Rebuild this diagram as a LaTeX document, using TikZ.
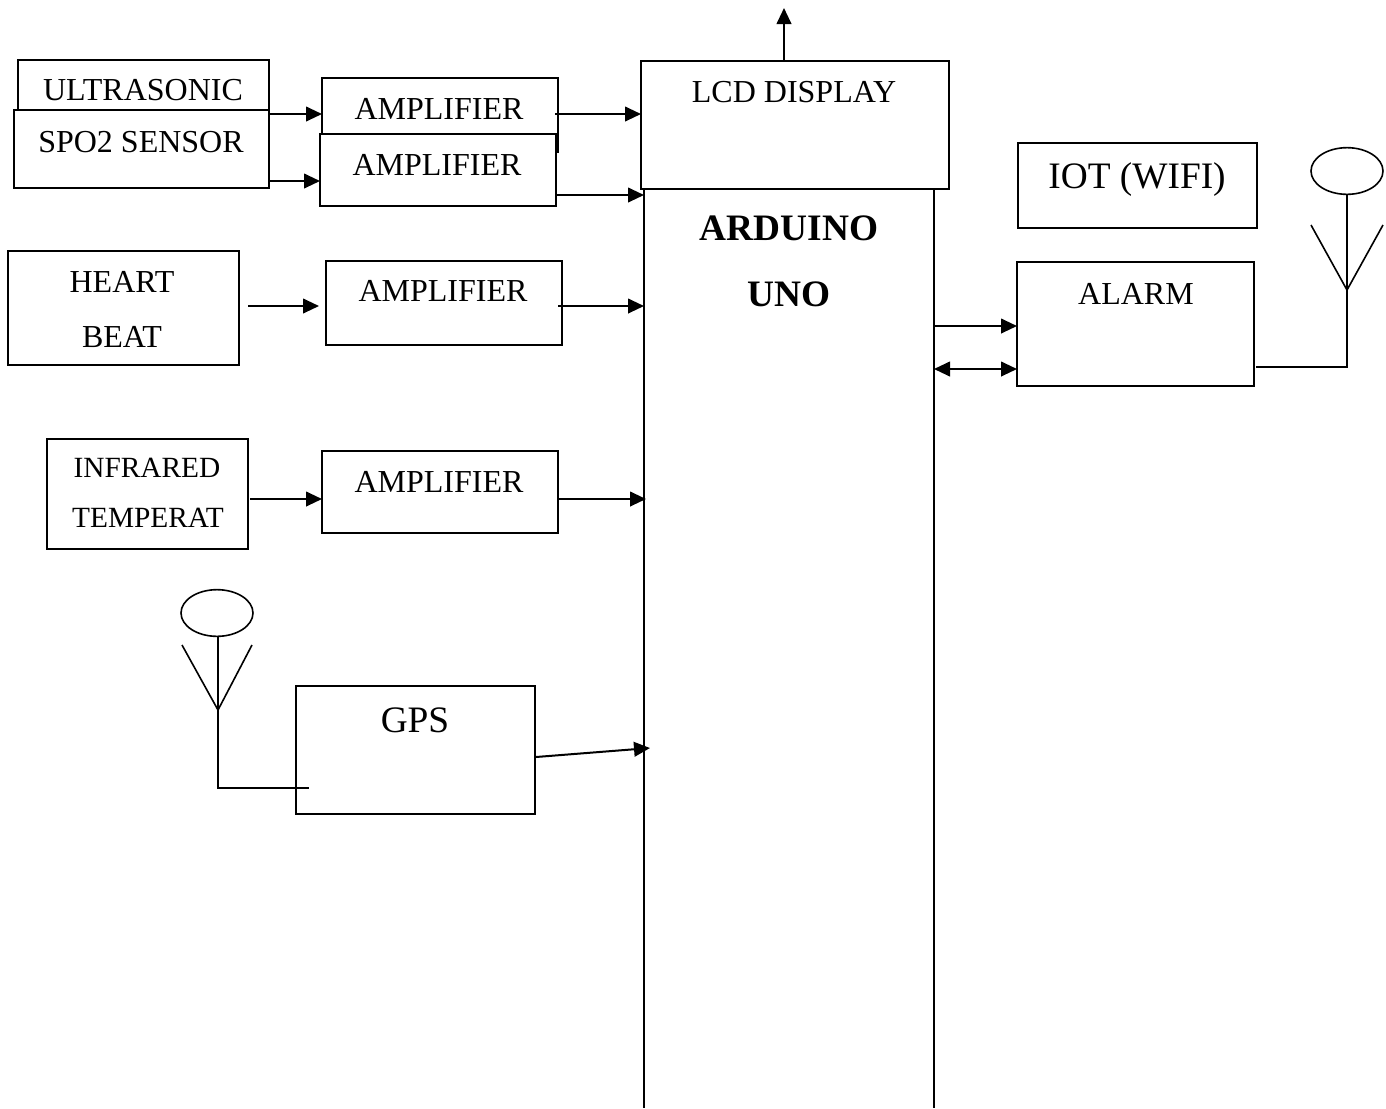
\documentclass[tikz,border=0pt]{standalone}
\usepackage{fontspec}
\setmainfont{Liberation Serif}
\usetikzlibrary{arrows.meta, shapes.geometric}

\tikzset{
  blk/.style 2 args={draw, fill=white, line width=1.5pt, anchor=north west, inner sep=0, outer sep=0,
    minimum width=#1*0.75pt, minimum height=#2*0.75pt},
  txt/.style={inner sep=0, anchor=base, font=\fontsize{24}{28}\selectfont},
  txtsm/.style={txt, font=\fontsize{22}{26}\selectfont},
  txtbig/.style={txt, font=\fontsize{28}{32}\selectfont},
  txtbold/.style={txt, font=\fontsize{28}{32}\selectfont\bfseries},
  sig/.style={line width=1.5pt, -{Triangle[length=12pt,width=11pt]}},
  sigboth/.style={line width=1.5pt, {Triangle[length=12pt,width=11pt]}-{Triangle[length=12pt,width=11pt]}},
  wire/.style={line width=1.2pt},
  ant/.style={draw, wire, ellipse, minimum width=54pt, minimum height=35pt, inner sep=0, outer sep=0}
}

\begin{document}
\begin{tikzpicture}[x=0.75pt, y=-0.75pt]
  \useasboundingbox (0,0) rectangle (1386,1108);

  % Arduino
  \node[minimum width=217.5pt, minimum height=689.25pt, inner sep=0, outer sep=0, anchor=north west] (uno) at (644,189) {};
  \draw[line width=1.5pt] (uno.north west) -- (uno.south west);
  \draw[line width=1.5pt] (uno.north east) -- (uno.south east);
  \node[txtbold] (unoa) at (789,240) {ARDUINO};
  \node[txtbold] (unob) at (789,306) {UNO};

  % Display
  \node[blk={308}{128}] (lcd) at (641,61) {};
  \node[txt] (lcdt) at (794,102) {LCD DISPLAY};
  \coordinate (top) at (784,8);
  \draw[sig] (lcd.north -| top) -- (top);

  % Sensors
  \node[blk={251}{50}] (ultra) at (18,60) {};
  \node[txt] (ultrat) at (143,100) {ULTRASONIC};
  \node[blk={255}{78}] (spo) at (14,110) {};
  \node[txt] (spot) at (141,152) {SPO2 SENSOR};
  \node[blk={231}{114}] (heart) at (8,251) {};
  \node[txt] (heartt) at (122,292) {HEART};
  \node[txt] (heartb) at (122,347) {BEAT};
  \node[blk={201}{110}] (ir) at (47,439) {};
  \node[txtsm] (irt) at (147,477) {INFRARED};
  \node[txtsm] (irb) at (148,527) {TEMPERAT};

  % Amplifiers
  \node[blk={236}{74}] (ampa) at (322,78) {};
  \node[txt] (ampat) at (439,119) {AMPLIFIER};
  \node[blk={236}{72}] (ampb) at (320,134) {};
  \node[txt] (ampbt) at (437,175) {AMPLIFIER};
  \node[blk={236}{84}] (ampc) at (326,261) {};
  \node[txt] (ampct) at (443,301) {AMPLIFIER};
  \node[blk={236}{82}] (ampd) at (322,451) {};
  \node[txt] (ampdt) at (439,492) {AMPLIFIER};

  % Right side
  \node[blk={239}{85}] (iot) at (1018,143) {};
  \node[txtbig] (iott) at (1137,188) {IOT (WIFI)};
  \node[blk={237}{124}] (alarm) at (1017,262) {};
  \node[txt] (alarmt) at (1136,304) {ALARM};

  % GPS
  \node[blk={239}{128}] (gps) at (296,686) {};
  \node[txtbig] (gpst) at (415,732) {GPS};

  % Free ends of the signals
  \coordinate (ampaout) at (555,114);
  \coordinate (heartout) at (248,306);
  \coordinate (ampcin) at (319,306);
  \coordinate (ampcout) at (558,306);
  \coordinate (irout) at (250,499);
  \coordinate (unoird) at (646,499);
  \coordinate (gpsout) at (536,757);
  \coordinate (unogps) at (650,748);

  % Signals
  \draw[sig] (spo.east |- 0,114) -- (ampa.west |- 0,114);
  \draw[sig] (spo.east |- 0,181) -- (ampb.west |- 0,181);
  \draw[sig] (ampaout) -- (lcd.west |- ampaout);
  \draw[sig] (ampb.east |- 0,195) -- (uno.west |- 0,195);
  \draw[sig] (heartout) -- (ampcin);
  \draw[sig] (ampcout) -- (uno.west |- ampcout);
  \draw[sig] (irout) -- (ampd.west |- irout);
  \draw[sig] (ampd.east |- unoird) -- (unoird);
  \draw[sig] (gpsout) -- (unogps);
  \draw[sig] (uno.east |- 0,326) -- (alarm.west |- 0,326);
  \draw[sigboth] (uno.east |- 0,369) -- (alarm.west |- 0,369);

  % Antennas
  \node[ant] (anta) at (1347,171) {};
  \coordinate (antajoin) at (1347,290);
  \coordinate (antaend) at (1347,367);
  \coordinate (antafeed) at (1256,367);
  \coordinate (antal) at (1311,225);
  \coordinate (antar) at (1383,225);
  \draw[wire] (anta.south) -- (antaend) -- (antafeed);
  \draw[wire] (antal) -- (antajoin) -- (antar);

  \node[ant] (antb) at (217,613) {};
  \coordinate (antbjoin) at (218,710);
  \coordinate (antbend) at (218,788);
  \coordinate (antbfeed) at (309,788);
  \coordinate (antbl) at (182,645);
  \coordinate (antbr) at (252,645);
  \draw[wire] (antb.south -| antbjoin) -- (antbend) -- (antbfeed);
  \draw[wire] (antbl) -- (antbjoin) -- (antbr);

\end{tikzpicture}
\end{document}
